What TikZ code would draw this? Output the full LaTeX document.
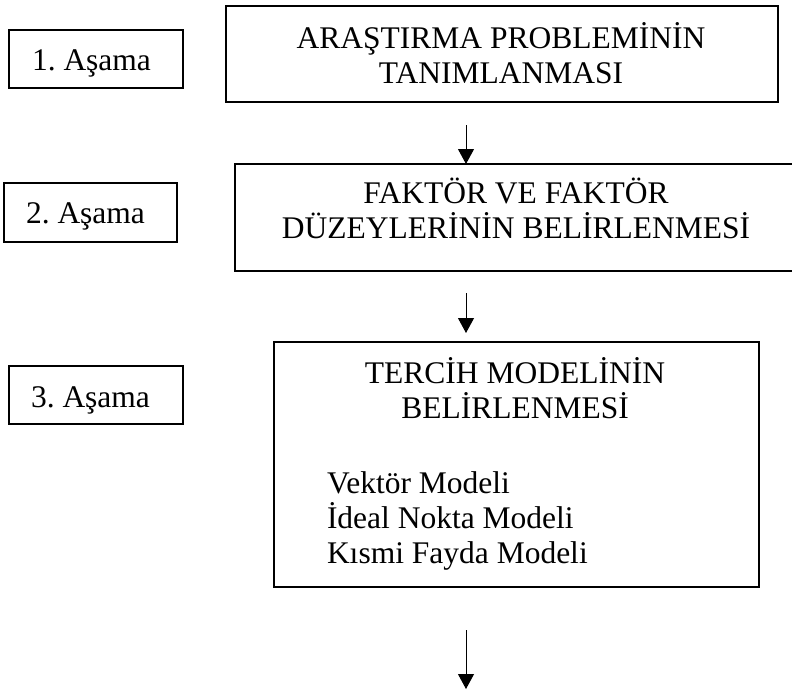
\documentclass[tikz,border=0pt]{standalone}
\usepackage{fontspec}
\setmainfont{Liberation Serif}
\usetikzlibrary{arrows.meta}
\frenchspacing
\begin{document}
\begin{tikzpicture}[x=1pt,y=-1pt,
  box/.style={draw=black,line width=1.5pt,anchor=north west,inner sep=0pt,outer sep=0pt},
  txt/.style={inner sep=0pt,outer sep=0pt,font=\fontsize{31.5}{35}\selectfont},
  arr/.style={line width=1pt,-{Triangle[length=15pt,width=16pt]}}]
\useasboundingbox (0,0) rectangle (792,689);
% stage boxes
\node[box,minimum width=174pt,minimum height=58pt] (s1) at (9,30) {};
\node[box,minimum width=173pt,minimum height=59pt] (s2) at (4,183) {};
\node[box,minimum width=174pt,minimum height=58pt] (s3) at (9,366) {};
\node[txt,anchor=base west] (t1) at (32,70) {1. Aşama};
\node[txt,anchor=base west] (t2) at (26,223) {2. Aşama};
\node[txt,anchor=base west] (t3) at (31,407) {3. Aşama};
% main boxes
\node[box,minimum width=552pt,minimum height=96pt] (ba) at (226,6) {};
\node[box,minimum width=561pt,minimum height=107pt] (bb) at (235,164) {};
\node[box,minimum width=485pt,minimum height=245pt] (bc) at (274,342) {};
\node[txt,align=center,anchor=base] (ta) at (501,83) {ARAŞTIRMA PROBLEMİNİN\\TANIMLANMASI};
\node[txt,align=center,anchor=base] (tb) at (516,238) {FAKTÖR VE FAKTÖR\\DÜZEYLERİNİN BELİRLENMESİ};
\node[txt,align=center,anchor=base] (tc) at (515,418) {TERCİH MODELİNİN\\BELİRLENMESİ};
\node[txt,align=left,anchor=base west] (tl) at (327,563) {Vektör Modeli\\İdeal Nokta Modeli\\Kısmi Fayda Modeli};
% arrows
\coordinate (a1s) at (466,125);
\coordinate (a1e) at (466,164);
\coordinate (a2s) at (466,293);
\coordinate (a2e) at (466,333);
\coordinate (a3s) at (466,630);
\coordinate (a3e) at (466,689);
\draw[arr] (a1s) -- (a1e);
\draw[arr] (a2s) -- (a2e);
\draw[arr] (a3s) -- (a3e);
\end{tikzpicture}
\end{document}
